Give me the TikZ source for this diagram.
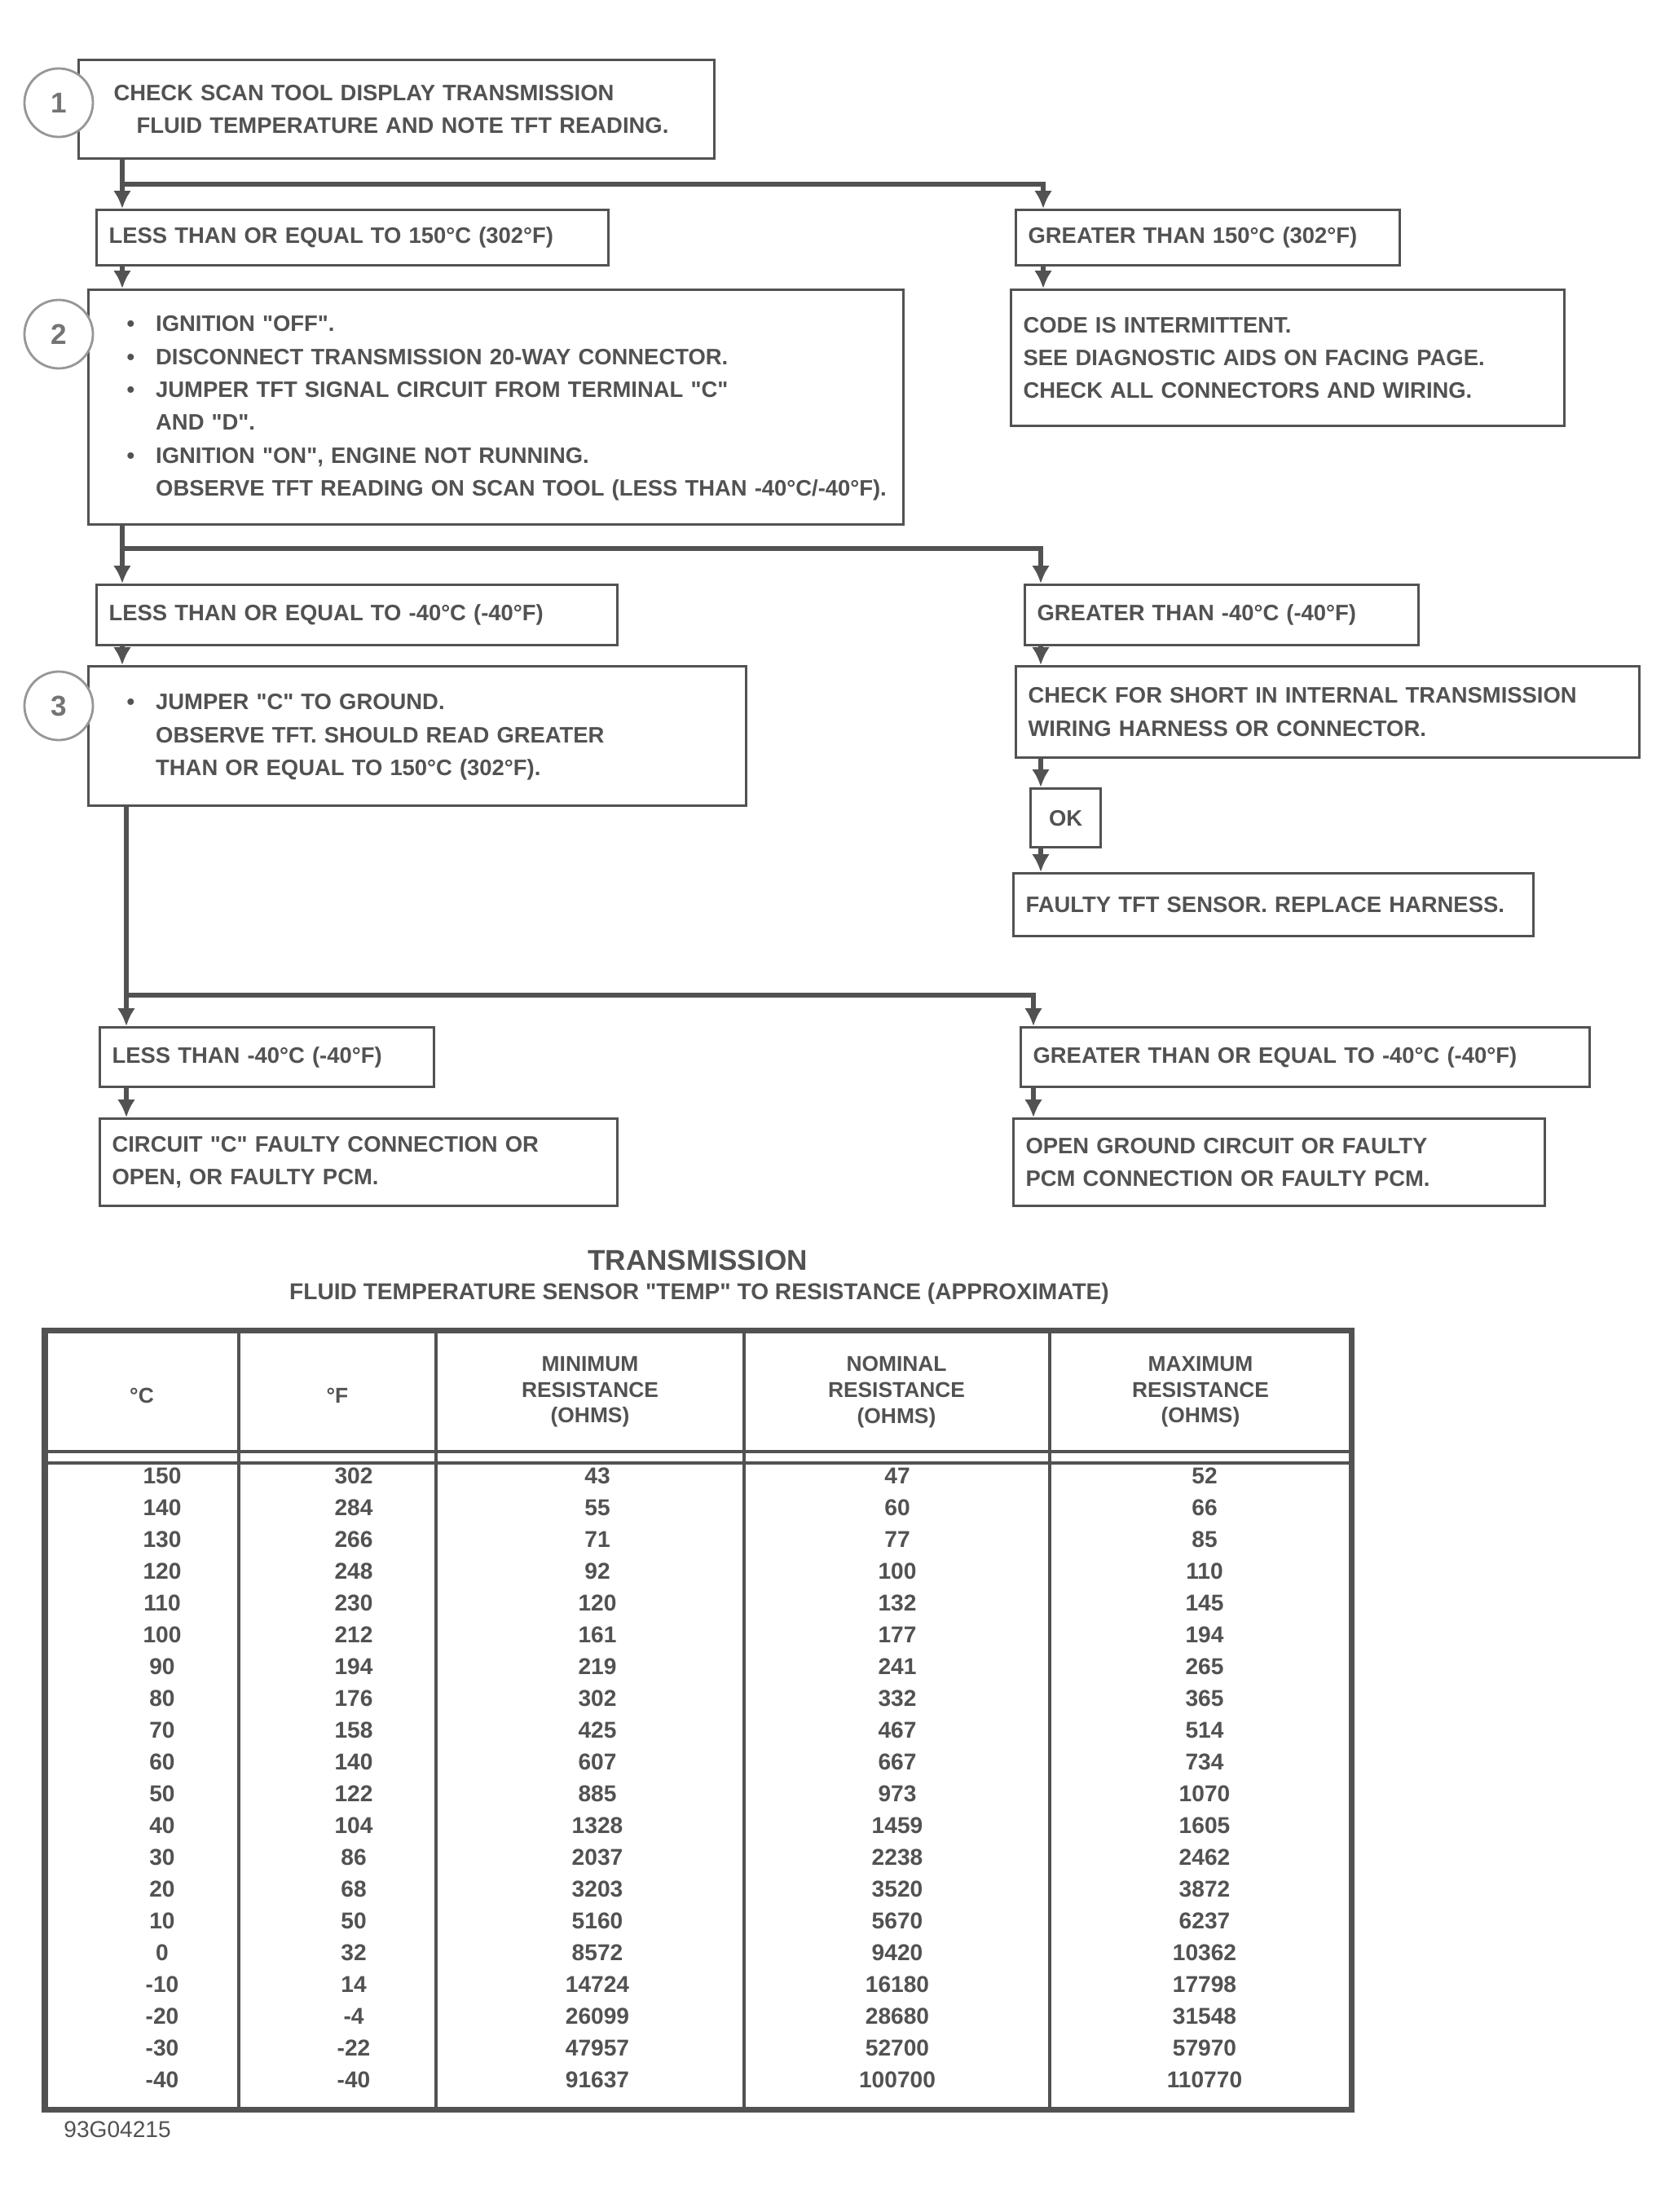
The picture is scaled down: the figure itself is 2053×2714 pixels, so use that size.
\documentclass[tikz,border=0pt]{standalone}
\usepackage{fontspec}
\setmainfont{Liberation Sans}
\usepackage{xcolor}
\usepackage{tikz}
\usetikzlibrary{arrows,arrows.meta,calc,positioning}
\definecolor{ink}{gray}{0.32}
\newcommand{\qt}[1]{\textquotedbl#1\textquotedbl}

\begin{document}
\begin{tikzpicture}[x=0.1mm,y=-0.1mm,
  chartbox/.style={draw=ink, line width=0.9pt, fill=white, anchor=north west, align=left,
    inner xsep=1.5mm, inner ysep=0pt, text=ink, font=\fontsize{7.8}{11.5}\selectfont\bfseries},
  okbox/.style={chartbox, align=center, inner xsep=0pt},
  link/.style={draw=ink, line width=1.8pt},
  flow/.style={link, -{Latex[length=2.2mm,width=2.2mm]}},
  stepnum/.style={circle, draw=ink!60, line width=0.8pt, fill=white, minimum size=8.4mm,
    inner sep=0pt, text=ink!80, font=\fontsize{10}{12}\selectfont\bfseries},
  rule/.style={draw=ink, line width=1.1pt},
  cell/.style={text=ink, font=\fontsize{8}{9}\selectfont\bfseries},
  head/.style={text=ink, align=center, font=\fontsize{7.5}{9}\selectfont\bfseries}]
\pgfmathsetmacro{\rowtop}{1811}
\pgfmathsetmacro{\rowgap}{39}

\fill[white] (0,0) rectangle (2053,2714);
\useasboundingbox (0,0) rectangle (2053,2714);

% flow chart boxes
\node[chartbox, text width=75mm, minimum height=12.1mm] (step1) at (95,72)
  {\hspace*{2.8mm}CHECK SCAN TOOL DISPLAY TRANSMISSION\\
   \hspace*{5.6mm}FLUID TEMPERATURE AND NOTE TFT READING.};
\node[chartbox, text width=59.8mm, minimum height=6.8mm] (ltA) at (117,256)
  {LESS THAN OR EQUAL TO 150°C (302°F)};
\node[chartbox, text width=44.1mm, minimum height=6.8mm] (gtA) at (1245,256)
  {GREATER THAN 150°C (302°F)};
\node[chartbox, text width=97mm, minimum height=28.8mm] (step2) at (107,354)
  {\hspace*{3.2mm}\begin{tabular}{@{}l@{\hspace{2.6mm}}l@{}}
   \textbullet & IGNITION \qt{OFF}.\\
   \textbullet & DISCONNECT TRANSMISSION 20-WAY CONNECTOR.\\
   \textbullet & JUMPER TFT SIGNAL CIRCUIT FROM TERMINAL \qt{C}\\
               & AND \qt{D}.\\
   \textbullet & IGNITION \qt{ON}, ENGINE NOT RUNNING.\\
               & OBSERVE TFT READING ON SCAN TOOL (LESS THAN -40°C/-40°F).
   \end{tabular}};
\node[chartbox, text width=64.9mm, minimum height=16.7mm] (intermit) at (1239,354)
  {CODE IS INTERMITTENT.\\
   SEE DIAGNOSTIC AIDS ON FACING PAGE.\\
   CHECK ALL CONNECTORS AND WIRING.};
\node[chartbox, text width=60.9mm, minimum height=7.4mm] (ltB) at (117,716)
  {LESS THAN OR EQUAL TO -40°C (-40°F)};
\node[chartbox, text width=45.3mm, minimum height=7.4mm] (gtB) at (1256,716)
  {GREATER THAN -40°C (-40°F)};
\node[chartbox, text width=77.7mm, minimum height=17.1mm] (step3) at (107,816)
  {\hspace*{3.2mm}\begin{tabular}{@{}l@{\hspace{2.6mm}}l@{}}
   \textbullet & JUMPER \qt{C} TO GROUND.\\
               & OBSERVE TFT. SHOULD READ GREATER\\
               & THAN OR EQUAL TO 150°C (302°F).
   \end{tabular}};
\node[chartbox, text width=73.5mm, minimum height=11.2mm] (openchk) at (1245,816)
  {CHECK FOR SHORT IN INTERNAL TRANSMISSION\\
   WIRING HARNESS OR CONNECTOR.};
\node[okbox, minimum width=8.6mm, minimum height=7.2mm] (ok) at (1263,966) {OK};
\node[chartbox, text width=60.8mm, minimum height=7.7mm] (repair) at (1242,1070)
  {FAULTY TFT SENSOR. REPLACE HARNESS.};
\node[chartbox, text width=38mm, minimum height=7.3mm] (ltC) at (121,1259)
  {LESS THAN -40°C (-40°F)};
\node[chartbox, text width=66.8mm, minimum height=7.3mm] (gtC) at (1251,1259)
  {GREATER THAN OR EQUAL TO -40°C (-40°F)};
\node[chartbox, text width=60.5mm, minimum height=10.7mm] (faultC) at (121,1371)
  {CIRCUIT \qt{C} FAULTY CONNECTION OR\\
   OPEN, OR FAULTY PCM.};
\node[chartbox, text width=62.2mm, minimum height=10.7mm] (faultD) at (1242,1371)
  {OPEN GROUND CIRCUIT OR FAULTY\\
   PCM CONNECTION OR FAULTY PCM.};

% step numbers
\node[stepnum] (num1) at (72,126) {1};
\node[stepnum] (num2) at (72,410) {2};
\node[stepnum] (num3) at (72,866) {3};

% connectors
\coordinate (j1) at (150,226);
\coordinate (j1r) at (1280,226);
\coordinate (j2) at (150,673);
\coordinate (j2r) at (1277,673);
\coordinate (j3) at (155,1221);
\coordinate (j3r) at (1268,1221);

\draw[flow] (step1.south -| j1) -- (ltA.north -| j1);
\draw[flow] (j1) -| (gtA.north -| j1r);
\draw[flow] (ltA.south -| j1) -- (step2.north -| j1);
\draw[flow] (gtA.south -| j1r) -- (intermit.north -| j1r);

\draw[flow] (step2.south -| j2) -- (ltB.north -| j2);
\draw[flow] (j2) -| (gtB.north -| j2r);
\draw[flow] (ltB.south -| j2) -- (step3.north -| j2);
\draw[flow] (gtB.south -| j2r) -- (openchk.north -| j2r);
\draw[flow] (openchk.south -| j2r) -- (ok.north -| j2r);
\draw[flow] (ok.south -| j2r) -- (repair.north -| j2r);

\draw[flow] (step3.south -| j3) -- (ltC.north -| j3);
\draw[flow] (j3) -| (gtC.north -| j3r);
\draw[flow] (ltC.south -| j3) -- (faultC.north -| j3);
\draw[flow] (gtC.south -| j3r) -- (faultD.north -| j3r);

% resistance table
\node[text=ink, font=\fontsize{10}{11}\selectfont\bfseries] (tabtitle) at (856,1546) {TRANSMISSION};
\node[text=ink, font=\fontsize{8}{10}\selectfont\bfseries] (tabsub) at (858,1587)
  {FLUID TEMPERATURE SENSOR \qt{TEMP} TO RESISTANCE (APPROXIMATE)};

\draw[draw=ink, line width=2pt] (55,1632) rectangle (1658,2588);
\draw[rule] (55,1781) -- (1658,1781);
\draw[rule] (55,1795) -- (1658,1795);
\foreach \cx in {293,535,913,1288}
  \draw[rule] (\cx,1632) -- (\cx,2588);

\node[head] (hc) at (174,1712) {°C};
\node[head] (hf) at (414,1712) {°F};
\node[head] (hmin) at (724,1708) {MINIMUM\\RESISTANCE\\(OHMS)};
\node[head] (hnom) at (1100,1708) {NOMINAL\\RESISTANCE\\(OHMS)};
\node[head] (hmax) at (1473,1708) {MAXIMUM\\RESISTANCE\\(OHMS)};

\foreach \c/\f/\rlo/\rmid/\rhi [count=\i from 0] in {
  150/302/43/47/52, 140/284/55/60/66, 130/266/71/77/85, 120/248/92/100/110,
  110/230/120/132/145, 100/212/161/177/194, 90/194/219/241/265, 80/176/302/332/365,
  70/158/425/467/514, 60/140/607/667/734, 50/122/885/973/1070, 40/104/1328/1459/1605,
  30/86/2037/2238/2462, 20/68/3203/3520/3872, 10/50/5160/5670/6237, 0/32/8572/9420/10362,
  -10/14/14724/16180/17798, -20/-4/26099/28680/31548, -30/-22/47957/52700/57970,
  -40/-40/91637/100700/110770}{
  \pgfmathsetmacro{\ry}{\rowtop+\rowgap*\i}
  \node[cell] at (199,\ry) {\c};
  \node[cell] at (434,\ry) {\f};
  \node[cell] at (733,\ry) {\rlo};
  \node[cell] at (1101,\ry) {\rmid};
  \node[cell] at (1478,\ry) {\rhi};
}

\node[anchor=west, text=ink, font=\fontsize{8}{9}\selectfont] (figno) at (66,2613) {93G04215};
\end{tikzpicture}
\end{document}
